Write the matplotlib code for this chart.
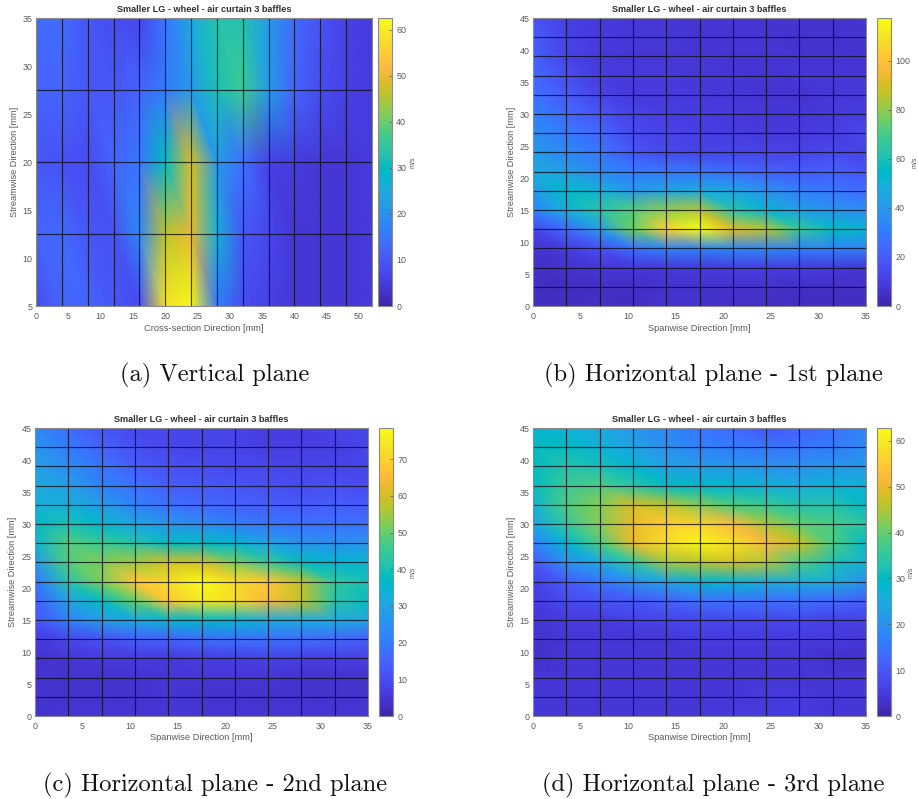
import numpy as np
import matplotlib
matplotlib.use("Agg")
import matplotlib.pyplot as plt
from matplotlib.colors import LinearSegmentedColormap

W, H = 918, 799
parula_colors = [
 (0.2422,0.1504,0.6603),(0.2504,0.1650,0.7076),(0.2578,0.1818,0.7511),(0.2647,0.1978,0.7952),
 (0.2706,0.2147,0.8364),(0.2751,0.2342,0.8710),(0.2783,0.2559,0.8991),(0.2803,0.2782,0.9221),
 (0.2813,0.3006,0.9414),(0.2810,0.3228,0.9579),(0.2795,0.3447,0.9717),(0.2760,0.3667,0.9829),
 (0.2699,0.3892,0.9906),(0.2602,0.4123,0.9952),(0.2440,0.4358,0.9988),(0.2206,0.4603,0.9973),
 (0.1963,0.4847,0.9892),(0.1834,0.5074,0.9798),(0.1786,0.5289,0.9682),(0.1764,0.5499,0.9520),
 (0.1687,0.5703,0.9359),(0.1540,0.5902,0.9218),(0.1460,0.6091,0.9079),(0.1380,0.6276,0.8973),
 (0.1248,0.6459,0.8883),(0.1113,0.6635,0.8763),(0.0952,0.6798,0.8598),(0.0689,0.6948,0.8394),
 (0.0297,0.7082,0.8163),(0.0036,0.7203,0.7917),(0.0067,0.7312,0.7660),(0.0433,0.7411,0.7394),
 (0.0964,0.7500,0.7120),(0.1408,0.7584,0.6842),(0.1717,0.7670,0.6554),(0.1938,0.7758,0.6251),
 (0.2161,0.7843,0.5923),(0.2470,0.7918,0.5567),(0.2906,0.7973,0.5188),(0.3406,0.8008,0.4789),
 (0.3909,0.8029,0.4354),(0.4456,0.8024,0.3909),(0.5044,0.7993,0.3480),(0.5616,0.7942,0.3045),
 (0.6174,0.7876,0.2612),(0.6720,0.7793,0.2227),(0.7242,0.7698,0.1910),(0.7738,0.7598,0.1646),
 (0.8203,0.7498,0.1535),(0.8634,0.7406,0.1596),(0.9035,0.7330,0.1774),(0.9393,0.7288,0.2100),
 (0.9728,0.7298,0.2394),(0.9956,0.7434,0.2371),(0.9970,0.7659,0.2199),(0.9952,0.7893,0.2028),
 (0.9892,0.8136,0.1885),(0.9786,0.8386,0.1766),(0.9676,0.8639,0.1643),(0.9610,0.8890,0.1537),
 (0.9597,0.9135,0.1423),(0.9628,0.9373,0.1265),(0.9691,0.9606,0.1064),(0.9769,0.9839,0.0805)]
parula = LinearSegmentedColormap.from_list("parula", parula_colors, N=256)

title_text = "Smaller LG - wheel - air curtain 3 baffles"
unit_label = "m/s"
ylabel_text = "Streamwise Direction [mm]"

# Panel (a)
xa = [0,4,8,12,16,20,24,28,32,36,40,44,48,52]
ya = [5,12.5,20,27.5,35]
Za = [
 [ 8,12,12,10, 8,58,62,16, 8, 6, 4, 4, 4, 5],
 [12,13,10, 9,18,46,50,26,10, 7, 4, 4, 4, 5],
 [10, 9, 8,12,15,30,48,22,14, 6, 5, 4, 4, 5],
 [12,12,10,10,12,16,22,32,36,22,12, 8, 6, 5],
 [13,13,10, 8, 7,15,25,33,33,22,13, 9, 6, 5],
]

# Panels (b), (c), (d)
xh = [0,3.5,7,10.5,14,17.5,21,24.5,28,31.5,35]
yh = [0,3,6,9,12,15,18,21,24,27,30,33,36,39,42,45]
Zb = [
 [ 4, 4, 5, 4, 6, 6, 5, 5, 4, 4, 4],
 [ 5, 4, 5, 5, 6, 6, 6, 6, 5, 5, 5],
 [ 5, 6, 8, 8, 9, 9,10,10,10, 9, 7],
 [ 6,10,16,27,32,32,34,34,32,32,32],
 [12,25,42,76,105,118,92,85,66,56,52],
 [32,50,62,72,80,85,62,52,42,38,36],
 [40,55,50,40,45,48,45,38,32,28,25],
 [46,42,35,30,28,28,26,22,20,22,18],
 [40,34,28,18,14,12,12,12,12,14,12],
 [36,30,24,14,12,11,10, 9, 9,10,14],
 [32,24,18,12,11,10, 9, 8, 8, 9,10],
 [27,20,12, 9, 9, 9, 8, 7, 7, 8, 8],
 [24,16,10, 9, 9, 8, 8, 7, 8, 8, 8],
 [22,12, 9, 8, 8, 8, 7, 7, 7, 7, 7],
 [20,12, 9, 8, 8, 7, 7, 7, 6, 6, 7],
 [18,11, 9, 8, 8, 7, 7, 7, 7, 6, 7],
]
Zc = [
 [ 4, 5, 5, 5, 5, 5, 5, 5, 5, 5, 5],
 [ 4, 4, 4, 4, 5, 4, 4, 4, 4, 4, 4],
 [ 4, 4, 4, 4, 5, 5, 5, 5, 4, 4, 4],
 [ 4, 5, 6, 6, 6, 7, 7, 8, 7, 7, 7],
 [ 6, 9,11,14,15,17,18,18,17,16,14],
 [12,22,28,32,35,37,35,32,32,32,30],
 [14,30,38,50,68,75,72,65,58,42,38],
 [19,42,52,68,72,78,72,68,58,44,40],
 [26,48,52,55,60,60,52,45,38,35,35],
 [34,48,45,42,38,38,35,30,26,25,26],
 [36,40,36,30,26,24,21,19,18,18,18],
 [33,33,28,22,18,16,15,14,13,14,13],
 [31,28,22,18,14,13,12,11,10,11,10],
 [28,24,19,14,11,10, 9, 9, 8, 8, 9],
 [26,20,15,11, 9, 8, 8, 7, 7, 7, 8],
 [23,17,12, 9, 9, 8, 8, 7, 7, 8, 8],
]
Zd = [
 [ 4, 4, 4, 4, 4, 4, 5, 5, 5, 4, 4],
 [ 4, 4, 4, 4, 4, 4, 4, 5, 5, 4, 4],
 [ 4, 4, 4, 4, 4, 4, 4, 4, 4, 4, 4],
 [ 3, 4, 4, 4, 4, 4, 4, 4, 4, 3, 3],
 [ 3, 4, 4, 4, 4, 5, 5, 5, 5, 5, 4],
 [ 4, 5, 5, 6, 7, 7, 7, 7, 7, 6, 6],
 [ 5, 8, 9,10,12,14,14,14,14,13,11],
 [ 6,11,15,20,24,28,28,26,26,26,20],
 [10,20,25,35,44,46,48,45,38,32,27],
 [17,28,38,50,58,62,58,52,47,38,30],
 [24,35,42,50,55,56,52,45,40,38,34],
 [27,38,42,48,46,42,38,36,33,33,30],
 [30,36,38,34,30,29,28,27,26,27,27],
 [30,33,32,28,23,22,21,20,20,21,22],
 [30,30,27,24,20,17,16,15,15,16,19],
 [28,27,25,21,18,15,13,10,12,14,18],
]

panels = [
 dict(x=xa, y=ya, z=Za, vmax=62.6, box=(36,372,18,306), cb=(378,392), xlabel="Cross-section Direction [mm]",
      xt=range(0,51,5), yt=range(5,36,5), cbt=range(0,61,10), ylx=15, unit=(413,162),
      cap="(a) Vertical plane", capc=(215,375)),
 dict(x=xh, y=yh, z=Zb, vmax=117.5, box=(533,866,18,306), cb=(877,891), xlabel="Spanwise Direction [mm]",
      xt=range(0,36,5), yt=range(0,46,5), cbt=range(0,101,20), ylx=512, unit=(915,162),
      cap="(b) Horizontal plane - 1st plane", capc=(713,375)),
 dict(x=xh, y=yh, z=Zc, vmax=78.5, box=(35,368,428,716), cb=(379,393), xlabel="Spanwise Direction [mm]",
      xt=range(0,36,5), yt=range(0,46,5), cbt=range(0,71,10), ylx=13, unit=(413,572),
      cap="(c) Horizontal plane - 2nd plane", capc=(215,785)),
 dict(x=xh, y=yh, z=Zd, vmax=62.8, box=(533,866,428,716), cb=(877,891), xlabel="Spanwise Direction [mm]",
      xt=range(0,36,5), yt=range(0,46,5), cbt=range(0,61,10), ylx=512, unit=(911,572),
      cap="(d) Horizontal plane - 3rd plane", capc=(713,785)),
]

plt.rcParams['font.family'] = ['Liberation Sans', 'DejaVu Sans']
fig = plt.figure(figsize=(W/100, H/100), dpi=100, facecolor='white')
GRAY = '#5a5a5a'
EDGE = '#8a8a8a'

def rect(x0, x1, y0, y1):
    return [x0/W, 1-y1/H, (x1-x0)/W, (y1-y0)/H]

def quad_triangles(nx, ny):
    # each cell is split along the top-left to bottom-right diagonal
    tris = []
    for j in range(ny-1):
        for i in range(nx-1):
            bl, br = j*nx+i, j*nx+i+1
            tl, tr = (j+1)*nx+i, (j+1)*nx+i+1
            tris += [[bl, br, tl], [tl, br, tr]]
    return tris

for p in panels:
    x0, x1, y0, y1 = p['box']
    ax = fig.add_axes(rect(x0, x1, y0, y1))
    X, Y = np.meshgrid(p['x'], p['y'])
    Z = np.array(p['z'], float)
    m = ax.tripcolor(X.ravel(), Y.ravel(), quad_triangles(len(p['x']), len(p['y'])), Z.ravel(),
                     shading='gouraud', cmap=parula, vmin=0, vmax=p['vmax'])
    ax.vlines(p['x'][1:-1], p['y'][0], p['y'][-1], colors='#0c0c18', linewidth=0.85, alpha=0.78)
    ax.hlines(p['y'][1:-1], p['x'][0], p['x'][-1], colors='#0c0c18', linewidth=0.85, alpha=0.78)
    ax.set_xlim(p['x'][0], p['x'][-1])
    ax.set_ylim(p['y'][0], p['y'][-1])
    ax.set_xticks(list(p['xt']))
    ax.set_yticks(list(p['yt']))
    ax.tick_params(labelsize=6.4, colors=GRAY, length=0, labelcolor=GRAY)
    ax.tick_params(axis='x', pad=4.5)
    ax.tick_params(axis='y', pad=2.5)
    for s in ax.spines.values():
        s.set_color(EDGE); s.set_linewidth(0.8)
    cx = (x0+x1)/2
    fig.text(cx/W, 1-(y0-8)/H, title_text, ha='center', va='center', fontsize=6.6, fontweight='bold', color='#303030')
    fig.text(cx/W, 1-(y1+22)/H, p['xlabel'], ha='center', va='center', fontsize=6.7, color=GRAY)
    fig.text(p['ylx']/W, 1-((y0+y1)/2)/H, ylabel_text, ha='center', va='center', rotation=90, fontsize=6.6, color=GRAY)

    cax = fig.add_axes(rect(p['cb'][0], p['cb'][1], y0, y1))
    cb = fig.colorbar(m, cax=cax)
    cb.set_ticks(list(p['cbt']))
    cax.tick_params(labelsize=6.4, labelcolor=GRAY, color=GRAY, direction='in', length=2.2, width=0.5, pad=3)
    cb.outline.set_edgecolor(EDGE); cb.outline.set_linewidth(0.8)
    fig.text(p['unit'][0]/W, 1-p['unit'][1]/H, unit_label, ha='center', va='center', rotation=90, fontsize=5, color=GRAY)
    fig.text(p['capc'][0]/W, 1-p['capc'][1]/H, p['cap'], ha='center', va='center', fontsize=17.6, family='cmr10', color='#111111')

fig.savefig('out.png', dpi=100, facecolor='white')
